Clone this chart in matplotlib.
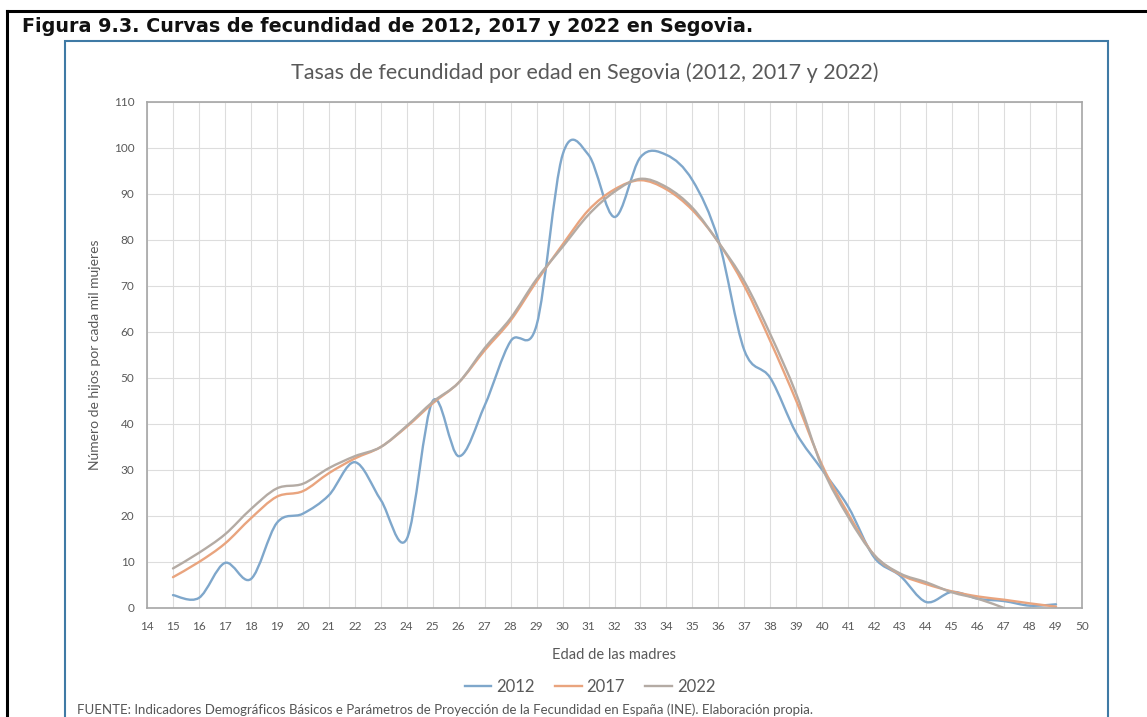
import matplotlib
matplotlib.use("Agg")
import matplotlib.pyplot as plt
from matplotlib.path import Path
from matplotlib.patches import PathPatch, Rectangle
from matplotlib.lines import Line2D
import numpy as np

ages_2012 = list(range(15, 50))
vals_2012 = [2.8, 2.2, 9.8, 6.3, 18.5, 20.5, 24.5, 31.7, 23.5, 15.0, 45.0, 33.0,
             44.0, 58.0, 61.5, 98.5, 98.5, 85.0, 98.0, 98.5, 93.0, 80.0, 56.0,
             50.0, 38.0, 30.0, 22.0, 11.0, 7.0, 1.3, 3.5, 2.0, 1.5, 0.5, 0.8]

ages_2017 = list(range(15, 50))
vals_2017 = [6.7, 10.0, 14.0, 19.5, 24.2, 25.4, 29.3, 32.5, 35.0, 39.4, 44.5, 49.0,
             56.0, 62.5, 71.0, 79.0, 86.5, 91.0, 93.0, 91.0, 86.5, 79.5, 70.0,
             58.0, 45.0, 31.0, 20.5, 11.5, 7.3, 5.2, 3.6, 2.5, 1.8, 1.0, 0.3]

ages_2022 = list(range(15, 48))
vals_2022 = [8.6, 12.0, 16.0, 21.5, 26.0, 27.0, 30.4, 33.0, 35.0, 39.6, 44.8, 49.0,
             56.5, 63.0, 71.5, 78.5, 85.5, 90.5, 93.3, 91.5, 87.0, 79.5, 71.0,
             59.5, 46.5, 30.5, 19.8, 11.5, 7.5, 5.6, 3.4, 2.0, 0.0]

series_labels = ["2012", "2017", "2022"]
colors = ["#7FA7CB", "#E9A47E", "#B4ABA4"]

x_ticks = list(range(14, 51))
y_ticks = list(range(0, 111, 10))

W, H = 1147, 717
fig = plt.figure(figsize=(W / 100, H / 100), dpi=100)

def fx(px):
    return px / W

def fy(py):
    return 1 - py / H

# outer black frame (top and left)
fig.add_artist(Line2D([fx(7), 1.0], [fy(11), fy(11)], color="black", lw=2.2, transform=fig.transFigure))
fig.add_artist(Line2D([fx(7), fx(7)], [fy(11), 0.0], color="black", lw=2.2, transform=fig.transFigure))
# blue chart frame
fig.add_artist(Rectangle((fx(65), -0.05), fx(1108) - fx(65), fy(41) + 0.05, fill=False,
                         edgecolor="#3F7AA5", lw=1.5, transform=fig.transFigure))

fig.text(fx(22), fy(27), "Figura 9.3. Curvas de fecundidad de 2012, 2017 y 2022 en Segovia.",
         fontsize=13.8, fontweight="bold", family="DejaVu Sans", va="center", ha="left", color="#111111")

fig.text(fx(585), fy(73), "Tasas de fecundidad por edad en Segovia (2012, 2017 y 2022)",
         fontsize=15.5, family="Lato", ha="center", va="center", color="#595959")

ax = fig.add_axes([fx(147), fy(608), fx(1082) - fx(147), fy(102) - fy(608)])
ax.set_xlim(14, 50)
ax.set_ylim(0, 110)
ax.set_xticks(x_ticks)
ax.set_yticks(y_ticks)
ax.set_xticklabels([str(t) for t in x_ticks], family="Lato", fontsize=8.5, color="#595959")
ax.set_yticklabels([str(t) for t in y_ticks], family="Lato", fontsize=8.5, color="#595959")
ax.tick_params(length=0, pad=9)
ax.grid(True, color="#DDDDDD", lw=0.8)
ax.set_axisbelow(True)
for s in ax.spines.values():
    s.set_color("#A6A6A6")
    s.set_linewidth(1.2)

def smooth_path(xs, ys):
    pts = np.column_stack([xs, ys]).astype(float)
    n = len(pts)
    verts = [pts[0]]
    codes = [Path.MOVETO]
    for i in range(n - 1):
        p0 = pts[i - 1] if i > 0 else pts[i]
        p1 = pts[i]
        p2 = pts[i + 1]
        p3 = pts[i + 2] if i + 2 < n else pts[i + 1]
        c1 = p1 + (p2 - p0) / 6.0
        c2 = p2 - (p3 - p1) / 6.0
        verts += [c1, c2, p2]
        codes += [Path.CURVE4] * 3
    return Path(verts, codes)

handles = []
for xs, ys, lab, c in [(ages_2012, vals_2012, series_labels[0], colors[0]),
                       (ages_2017, vals_2017, series_labels[1], colors[1]),
                       (ages_2022, vals_2022, series_labels[2], colors[2])]:
    patch = PathPatch(smooth_path(xs, ys), facecolor="none", edgecolor=c, lw=1.7,
                      transform=ax.transData, capstyle="round", joinstyle="round")
    ax.add_patch(patch)
    handles.append(Line2D([], [], color=c, lw=1.7, label=lab))

ax.set_xlabel("Edad de las madres", family="Lato", fontsize=10.5, color="#595959", labelpad=12)
ax.set_ylabel("Número de hijos por cada mil mujeres", family="Lato", fontsize=10, color="#595959", labelpad=9)

fig.legend(handles=handles, loc="center", bbox_to_anchor=(fx(590), fy(687)), ncol=3, frameon=False,
           prop={"family": "Lato", "size": 12}, labelcolor="#595959", handlelength=1.6,
           handletextpad=0.3, columnspacing=1.2)

fig.text(fx(77), fy(716), "FUENTE: Indicadores Demográficos Básicos e Parámetros de Proyección de la Fecundidad en España (INE). Elaboración propia.",
         family="Lato", fontsize=9.5, color="#555555", ha="left", va="bottom")

fig.savefig("out.png", dpi=100)
